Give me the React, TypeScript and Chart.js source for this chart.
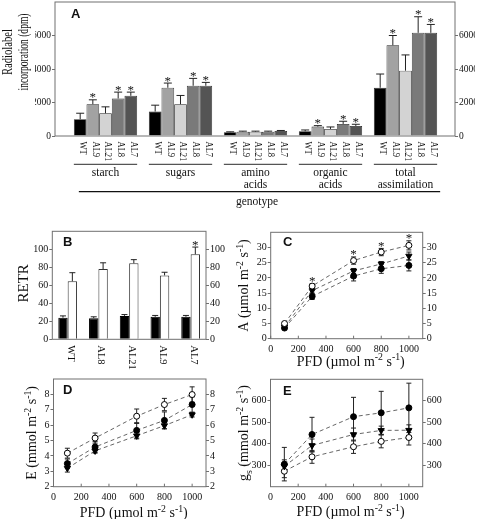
import React, { useEffect, useRef } from 'react';
import { Chart, registerables } from 'chart.js';

Chart.register(...registerables);

const W = 480;
const H = 519;
const LW = 20;
const RW = 20;
const XH = 20;
const SERIF = '"Liberation Serif", "Times New Roman", serif';
const SANS = '"Liberation Sans", Arial, sans-serif';
const FRAME = '#707070';
const INK = '#111111';

// ---------------- Panel A data ----------------
const groupLabelsA = [['starch'], ['sugars'], ['amino', 'acids'], ['organic', 'acids'], ['total', 'assimilation']];
const groupIndexA = [0, 1, 2, 3, 4];
const genotypesA = ['WT', 'AL9', 'AL21', 'AL8', 'AL7'];
const wtA = [1000, 1460, 220, 280, 2880];
const al9A = [1900, 2880, 260, 560, 5420];
const al21A = [1360, 1900, 260, 420, 3900];
const al8A = [2240, 3000, 260, 720, 6160];
const al7A = [2400, 3000, 300, 600, 6160];
const wtErrA = [360, 380, 30, 80, 820];
const al9ErrA = [260, 280, 30, 60, 580];
const al21ErrA = [380, 520, 30, 120, 940];
const al8ErrA = [380, 440, 30, 160, 960];
const al7ErrA = [220, 200, 30, 100, 500];
const wtSigA = [0, 0, 0, 0, 0];
const al9SigA = [1, 1, 0, 1, 1];
const al21SigA = [0, 0, 0, 0, 0];
const al8SigA = [1, 1, 0, 1, 1];
const al7SigA = [1, 1, 0, 1, 1];
const yTicksA = [0, 2000, 4000, 6000];
const yMaxA = 8000;
const xLabelA = 'genotype';
const yTitleA = ['Radiolabel', 'incorporation (dpm)'];
const colorsA = ['#000000', '#a2a2a2', '#d3d3d3', '#7a7a7a', '#545454'];

// ---------------- Panel B data ----------------
const genotypesB = ['WT', 'AL8', 'AL21', 'AL9', 'AL7'];
const darkB = [24, 23.5, 26, 25, 25];
const darkErrB = [2, 1.5, 1.5, 1.5, 1.5];
const darkSigB = [0, 0, 0, 0, 0];
const lightB = [64.5, 78, 84.5, 71, 94.5];
const lightErrB = [9.5, 7, 4, 3.5, 8];
const lightSigB = [0, 0, 0, 0, 1];
const yTicksB = [0, 20, 40, 60, 80, 100];
const yMaxB = 120;

// ---------------- Panels C, D, E data ----------------
const pfd = [100, 300, 600, 800, 1000];
const xTicksPFD = [0, 200, 400, 600, 800, 1000];
const xMaxPFD = 1100;

const openC = [5.0, 17.3, 25.7, 28.5, 30.7];
const openErrC = [0.5, 0.8, 1.2, 1.2, 1.5];
const openSigC = [0, 1, 1, 1, 1];
const filledC = [3.5, 13.9, 20.6, 23.0, 24.1];
const filledErrC = [0.5, 1.0, 1.6, 1.5, 1.8];
const triC = [3.9, 15.8, 22.3, 24.6, 27.2];
const triErrC = [0.4, 0.8, 0.8, 0.8, 1.3];
const yTicksC = [0, 5, 10, 15, 20, 25, 30];
const yMaxC = 35;

const openD = [4.18, 5.16, 6.58, 7.34, 7.99];
const openErrD = [0.32, 0.33, 0.47, 0.4, 0.5];
const filledD = [3.5, 4.58, 5.66, 6.31, 7.34];
const filledErrD = [0.3, 0.35, 0.5, 0.55, 0.5];
const triD = [3.2, 4.33, 5.31, 5.97, 6.68];
const triErrD = [0.25, 0.15, 0.2, 0.2, 0.15];
const yTicksD = [2, 3, 4, 5, 6, 7, 8];
const yMinD = 2;
const yMaxD = 9;

const filledE = [305, 443, 526, 544, 567];
const filledErrE = [78, 80, 90, 100, 115];
const triE = [295, 392, 443, 462, 463];
const triErrE = [30, 30, 30, 20, 25];
const openE = [272, 339, 386, 411, 429];
const openErrE = [30, 30, 31, 30, 35];
const yTicksE = [300, 400, 500, 600];
const yMinE = 200;
const yMaxE = 700;

type Seg = [string, number];
const pfdTitle: Seg[] = [['PFD (µmol m', 0], ['-2', 1], [' s', 0], ['-1', 1], [')', 0]];
const yTitleC: Seg[] = [['A (µmol m', 0], ['-2', 1], [' s', 0], ['-1', 1], [')', 0]];
const yTitleD: Seg[] = [['E (mmol m', 0], ['-2', 1], [' s', 0], ['-1', 1], [')', 0]];
const yTitleE: Seg[] = [['g', 0], ['s', -1], [' (mmol m', 0], ['-2', 1], [' s', 0], ['-1', 1], [')', 0]];
const yTitleB = 'RETR';

// ---------------- layout (chart areas) ----------------
type Area = { l: number; t: number; r: number; b: number };
const areaA: Area = { l: 55, t: 2, r: 455, b: 136 };
const areaB: Area = { l: 52.3, t: 231.3, r: 206, b: 339.3 };
const areaC: Area = { l: 270.7, t: 232.3, r: 422.7, b: 338.7 };
const areaD: Area = { l: 53.5, t: 379, r: 206, b: 486.7 };
const areaE: Area = { l: 270.5, t: 379.3, r: 422.7, b: 486.7 };

// ---------------- drawing helpers ----------------
function drawRich(
  ctx: CanvasRenderingContext2D,
  segs: Seg[],
  x: number,
  y: number,
  size: number,
  rot = 0,
  align: 'center' | 'left' = 'center',
  sx = 1,
  family = SERIF,
  weight = ''
) {
  ctx.save();
  ctx.translate(x, y);
  if (rot) ctx.rotate(rot);
  if (sx !== 1) ctx.scale(sx, 1);
  const small = size * 0.7;
  const fonts = segs.map(([, k]) => `${weight} ${k ? small : size}px ${family}`.trim());
  const widths = segs.map(([t], i) => {
    ctx.font = fonts[i];
    return ctx.measureText(t).width;
  });
  const total = widths.reduce((p, c) => p + c, 0);
  let cx = align === 'center' ? -total / 2 : 0;
  ctx.fillStyle = INK;
  ctx.textAlign = 'left';
  ctx.textBaseline = 'alphabetic';
  const base = size * 0.33;
  segs.forEach(([t, k], i) => {
    ctx.font = fonts[i];
    const dy = k === 1 ? -size * 0.4 : k === -1 ? size * 0.25 : 0;
    ctx.fillText(t, cx, base + dy);
    cx += widths[i];
  });
  ctx.restore();
}

function drawStar(ctx: CanvasRenderingContext2D, x: number, top: number) {
  ctx.save();
  ctx.font = `13px ${SERIF}`;
  ctx.fillStyle = INK;
  ctx.textAlign = 'center';
  ctx.textBaseline = 'alphabetic';
  ctx.fillText('*', x, top + 1.5);
  ctx.restore();
}

function drawFrame(chart: any, xInTicks?: number[]) {
  const { ctx, chartArea: a } = chart;
  ctx.save();
  ctx.strokeStyle = FRAME;
  ctx.lineWidth = 1;
  ctx.strokeRect(a.left, a.top, a.right - a.left, a.bottom - a.top);
  if (xInTicks) {
    const xs = chart.scales.x;
    xInTicks.forEach((v) => {
      const px = xs.getPixelForValue(v);
      ctx.beginPath();
      ctx.moveTo(px, a.bottom);
      ctx.lineTo(px, a.bottom - 3);
      ctx.stroke();
    });
  }
  ctx.restore();
}

function drawBarErrors(chart: any, cap: number) {
  const { ctx } = chart;
  const ys = chart.scales.y;
  chart.data.datasets.forEach((ds: any, di: number) => {
    const meta = chart.getDatasetMeta(di);
    meta.data.forEach((bar: any, i: number) => {
      const raw = ds.data[i];
      const v = typeof raw === 'number' ? raw : raw.y;
      const y0 = ys.getPixelForValue(v);
      const top = ys.getPixelForValue(v + ds.errs[i]);
      ctx.save();
      ctx.strokeStyle = '#222';
      ctx.lineWidth = 1;
      ctx.beginPath();
      ctx.moveTo(bar.x, y0);
      ctx.lineTo(bar.x, top);
      ctx.moveTo(bar.x - cap, top);
      ctx.lineTo(bar.x + cap, top);
      ctx.stroke();
      ctx.restore();
      if (ds.sigs && ds.sigs[i]) drawStar(ctx, bar.x, top);
    });
  });
}

function drawLineErrors(chart: any) {
  const { ctx } = chart;
  const ys = chart.scales.y;
  ctx.save();
  ctx.strokeStyle = '#222';
  ctx.lineWidth = 1;
  chart.data.datasets.forEach((ds: any, di: number) => {
    const meta = chart.getDatasetMeta(di);
    ds.errs.forEach((e: number, i: number) => {
      const pt = meta.data[i];
      const v = ds.data[i].y;
      const y1 = ys.getPixelForValue(v + e);
      const y2 = ys.getPixelForValue(v - e);
      ctx.beginPath();
      ctx.moveTo(pt.x, y1);
      ctx.lineTo(pt.x, y2);
      ctx.moveTo(pt.x - 2.5, y1);
      ctx.lineTo(pt.x + 2.5, y1);
      ctx.moveTo(pt.x - 2.5, y2);
      ctx.lineTo(pt.x + 2.5, y2);
      ctx.stroke();
    });
  });
  ctx.restore();
}

function drawLineStars(chart: any) {
  const ys = chart.scales.y;
  chart.data.datasets.forEach((ds: any, di: number) => {
    if (!ds.sigs) return;
    const meta = chart.getDatasetMeta(di);
    ds.sigs.forEach((s: number, i: number) => {
      if (!s) return;
      const top = ys.getPixelForValue(ds.data[i].y + ds.errs[i]);
      drawStar(chart.ctx, meta.data[i].x, top);
    });
  });
}

// ---------------- options helpers ----------------
function baseOptions(area: Area) {
  return {
    responsive: false,
    maintainAspectRatio: false,
    animation: false,
    devicePixelRatio: 1,
    events: [],
    layout: {
      padding: { left: area.l - LW, right: W - area.r - RW, top: area.t, bottom: H - area.b - XH },
    },
    plugins: { legend: { display: false }, tooltip: { enabled: false }, title: { display: false } },
  };
}

function yAxis(position: 'left' | 'right', min: number, max: number, ticks: number[], size = 10) {
  return {
    type: 'linear',
    position,
    min,
    max,
    afterBuildTicks: (s: any) => {
      s.ticks = ticks.map((v) => ({ value: v }));
    },
    grid: { display: true, drawOnChartArea: false, drawTicks: true, tickLength: 3, color: FRAME, lineWidth: 1 },
    border: { display: false },
    ticks: { font: { family: SERIF, size }, color: INK, padding: 1, callback: (v: any) => String(v) },
    afterFit: (s: any) => {
      s.width = position === 'left' ? LW : RW;
      s.paddingTop = 0;
      s.paddingBottom = 0;
    },
  };
}

function hiddenX(extra: any) {
  return {
    ...extra,
    grid: { display: false, drawTicks: false },
    border: { display: false },
    ticks: { display: false },
    afterFit: (s: any) => {
      s.height = XH;
      s.paddingLeft = 0;
      s.paddingRight = 0;
    },
  };
}

function pfdX() {
  return {
    type: 'linear',
    min: 0,
    max: xMaxPFD,
    offset: false,
    afterBuildTicks: (s: any) => {
      s.ticks = xTicksPFD.map((v) => ({ value: v }));
    },
    grid: { display: false, drawTicks: false },
    border: { display: false },
    ticks: {
      font: { family: SERIF, size: 10 },
      color: INK,
      padding: 4.5,
      maxRotation: 0,
      minRotation: 0,
      autoSkip: false,
      callback: (v: any) => String(v),
    },
    afterFit: (s: any) => {
      s.height = XH;
      s.paddingLeft = 0;
      s.paddingRight = 0;
    },
  };
}

function lineDs(vals: number[], errs: number[], kind: 'open' | 'filled' | 'tri', sigs?: number[]) {
  return {
    data: vals.map((v, i) => ({ x: pfd[i], y: v })),
    errs,
    sigs,
    borderColor: '#555',
    borderWidth: 0.9,
    borderDash: [4, 3],
    pointStyle: kind === 'tri' ? 'triangle' : 'circle',
    pointRotation: kind === 'tri' ? 180 : 0,
    pointRadius: kind === 'tri' ? 3.6 : 3,
    pointBackgroundColor: kind === 'open' ? '#ffffff' : '#000000',
    pointBorderColor: '#000000',
    pointBorderWidth: 1,
    fill: false,
    tension: 0,
  };
}

// ---------------- Panel A ----------------
function makeA() {
  const series = [wtA, al9A, al21A, al8A, al7A];
  const errs = [wtErrA, al9ErrA, al21ErrA, al8ErrA, al7ErrA];
  const sigs = [wtSigA, al9SigA, al21SigA, al8SigA, al7SigA];
  const datasets = series.map((vals, i) => ({
    label: genotypesA[i],
    data: vals.map((v, g) => ({ x: groupIndexA[g], y: v })),
    backgroundColor: colorsA[i],
    borderColor: '#222',
    borderWidth: 0.8,
    categoryPercentage: 0.844,
    barPercentage: 1,
    errs: errs[i],
    sigs: sigs[i],
  }));
  const plugin = {
    id: 'panelA',
    afterDatasetsDraw(chart: any) {
      drawBarErrors(chart, 4);
    },
    afterDraw(chart: any) {
      drawFrame(chart);
      const { ctx, chartArea: a } = chart;
      // bar labels
      chart.data.datasets.forEach((ds: any, di: number) => {
        const meta = chart.getDatasetMeta(di);
        meta.data.forEach((bar: any) => {
          drawRich(ctx, [[genotypesA[di], 0]], bar.x + 3.3, a.bottom + 5.5, 10, Math.PI / 2, 'left', 0.85);
        });
      });
      const m0 = chart.getDatasetMeta(0).data;
      const m4 = chart.getDatasetMeta(4).data;
      ctx.save();
      ctx.strokeStyle = '#555';
      ctx.lineWidth = 1.2;
      groupLabelsA.forEach((lines, g) => {
        const x1 = m0[g].x - m0[g].width / 2;
        const x2 = m4[g].x + m4[g].width / 2;
        ctx.beginPath();
        ctx.moveTo(x1, a.bottom + 28.3);
        ctx.lineTo(x2, a.bottom + 28.3);
        ctx.stroke();
        lines.forEach((t, li) => {
          drawRich(ctx, [[t, 0]], (x1 + x2) / 2, a.bottom + 36 + li * 12.5, 11.5);
        });
      });
      ctx.strokeStyle = '#111';
      ctx.beginPath();
      ctx.moveTo(m0[0].x - m0[0].width / 2 + 5, a.bottom + 55.7);
      ctx.lineTo(m4[4].x + m4[4].width / 2 + 3, a.bottom + 55.7);
      ctx.stroke();
      ctx.restore();
      drawRich(ctx, [[xLabelA, 0]], (a.left + a.right) / 2 + 2, a.bottom + 65, 11.5);
      drawRich(ctx, [[yTitleA[0], 0]], a.left - 47.3, a.top + 50, 14, -Math.PI / 2, 'center', 0.76);
      drawRich(ctx, [[yTitleA[1], 0]], a.left - 32, a.top + 50, 14, -Math.PI / 2, 'center', 0.68);
      drawRich(ctx, [['A', 0]], a.left + 16, a.top + 12, 13, 0, 'left', 1, SANS, 'bold');
    },
  };
  return {
    type: 'bar',
    data: { datasets },
    options: {
      ...baseOptions(areaA),
      scales: {
        x: hiddenX({
          type: 'linear',
          offset: false,
          min: -0.6733,
          max: 4.66,
          afterBuildTicks: (s: any) => {
            s.ticks = groupIndexA.map((v) => ({ value: v }));
          },
        }),
        y: yAxis('left', 0, yMaxA, yTicksA, 9.5),
        y2: yAxis('right', 0, yMaxA, yTicksA, 9.5),
      },
    },
    plugins: [plugin],
  };
}

// ---------------- Panel B ----------------
function makeB() {
  const plugin = {
    id: 'panelB',
    afterDatasetsDraw(chart: any) {
      drawBarErrors(chart, 3);
    },
    afterDraw(chart: any) {
      drawFrame(chart);
      const { ctx, chartArea: a } = chart;
      const xs = chart.scales.x;
      genotypesB.forEach((g, i) => {
        drawRich(ctx, [[g, 0]], xs.getPixelForValue(i) + 3.5, a.bottom + 6, 10.5, Math.PI / 2, 'left');
      });
      drawRich(ctx, [[yTitleB, 0]], a.left - 29, (a.top + a.bottom) / 2 - 2, 15, -Math.PI / 2);
      drawRich(ctx, [['B', 0]], a.left + 10.7, a.top + 10.7, 13, 0, 'left', 1, SANS, 'bold');
    },
  };
  return {
    type: 'bar',
    data: {
      labels: genotypesB,
      datasets: [
        {
          data: darkB,
          errs: darkErrB,
          sigs: darkSigB,
          backgroundColor: '#000',
          borderColor: '#000',
          borderWidth: 1,
          categoryPercentage: 0.61,
          barPercentage: 1,
        },
        {
          data: lightB,
          errs: lightErrB,
          sigs: lightSigB,
          backgroundColor: '#fff',
          borderColor: '#333',
          borderWidth: 1,
          categoryPercentage: 0.61,
          barPercentage: 1,
        },
      ],
    },
    options: {
      ...baseOptions(areaB),
      scales: {
        x: hiddenX({ type: 'category', offset: true }),
        y: yAxis('left', 0, yMaxB, yTicksB),
        y2: yAxis('right', 0, yMaxB, yTicksB),
      },
    },
    plugins: [plugin],
  };
}

// ---------------- line panels ----------------
function makeLine(
  area: Area,
  datasets: any[],
  min: number,
  max: number,
  ticks: number[],
  yTitle: Seg[],
  yTitleDx: number,
  xTitleDy: number,
  letter: string,
  letterDx: number,
  letterDy: number
) {
  const plugin = {
    id: 'panel' + letter,
    beforeDatasetsDraw(chart: any) {
      drawLineErrors(chart);
    },
    afterDraw(chart: any) {
      drawFrame(chart, xTicksPFD);
      drawLineStars(chart);
      const { ctx, chartArea: a } = chart;
      drawRich(ctx, yTitle, a.left - yTitleDx, (a.top + a.bottom) / 2, 14, -Math.PI / 2);
      drawRich(ctx, pfdTitle, (a.left + a.right) / 2 + 4, a.bottom + xTitleDy, 14);
      drawRich(ctx, [[letter, 0]], a.left + letterDx, a.top + letterDy, 13, 0, 'left', 1, SANS, 'bold');
    },
  };
  return {
    type: 'line',
    data: { datasets },
    options: {
      ...baseOptions(area),
      scales: {
        x: pfdX(),
        y: yAxis('left', min, max, ticks),
        y2: yAxis('right', min, max, ticks),
      },
    },
    plugins: [plugin],
  };
}

function makeC() {
  return makeLine(
    areaC,
    [lineDs(openC, openErrC, 'open', openSigC), lineDs(triC, triErrC, 'tri'), lineDs(filledC, filledErrC, 'filled')],
    0, yMaxC, yTicksC, yTitleC, 27, 22.3, 'C', 12.3, 9.7
  );
}

function makeD() {
  return makeLine(
    areaD,
    [lineDs(openD, openErrD, 'open'), lineDs(filledD, filledErrD, 'filled'), lineDs(triD, triErrD, 'tri')],
    yMinD, yMaxD, yTicksD, yTitleD, 22, 26, 'D', 9.5, 11
  );
}

function makeE() {
  return makeLine(
    areaE,
    [lineDs(filledE, filledErrE, 'filled'), lineDs(triE, triErrE, 'tri'), lineDs(openE, openErrE, 'open')],
    yMinE, yMaxE, yTicksE, yTitleE, 27, 25, 'E', 12.5, 11.7
  );
}

function Panel({ make }: { make: () => any }) {
  const ref = useRef<HTMLCanvasElement>(null);
  useEffect(() => {
    const chart = new Chart(ref.current as HTMLCanvasElement, make());
    return () => chart.destroy();
  }, []);
  return (
    <canvas
      ref={ref}
      width={W}
      height={H}
      style={{ position: 'absolute', left: 0, top: 0, width: W, height: H, pointerEvents: 'none' }}
    />
  );
}

export default function App() {
  return (
    <div style={{ position: 'fixed', left: 0, top: 0, width: W, height: H, background: '#fff', overflow: 'hidden' }}>
      <Panel make={makeA} />
      <Panel make={makeB} />
      <Panel make={makeC} />
      <Panel make={makeD} />
      <Panel make={makeE} />
    </div>
  );
}
